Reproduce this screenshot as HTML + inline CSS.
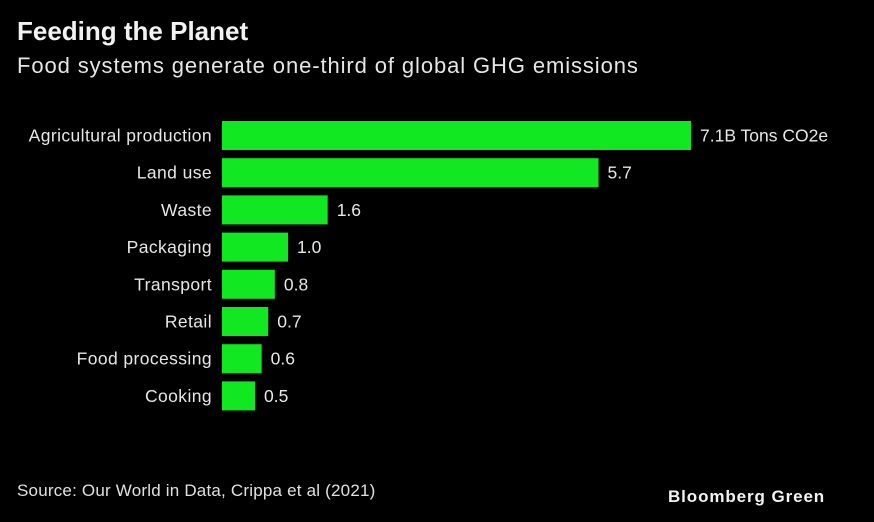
<!DOCTYPE html>
<html><head><meta charset="utf-8"><style>
body{margin:0;background:#000;width:874px;height:522px;overflow:hidden;font-family:"Liberation Sans",sans-serif;color:#e6e6e6}
#title{position:absolute;left:17px;top:16px;font-size:26px;font-weight:bold;color:#f2f2f2;letter-spacing:0px}
#sub{position:absolute;left:17px;top:53px;font-size:22px;color:#e6e6e6;letter-spacing:0.9px}
#src{position:absolute;left:17px;top:481px;font-size:17px;color:#e0e0e0;letter-spacing:0.2px}
#brand{position:absolute;left:668px;top:487px;font-size:17px;font-weight:bold;color:#f2f2f2;letter-spacing:0.9px}
</style></head><body>
<div id="title">Feeding the Planet</div>
<div id="sub">Food systems generate one-third of global GHG emissions</div>
<svg id="chart" width="874" height="522" style="position:absolute;left:0;top:0"></svg>
<div id="src">Source: Our World in Data, Crippa et al (2021)</div>
<div id="brand">Bloomberg Green</div>
<script>
const categories=["Agricultural production","Land use","Waste","Packaging","Transport","Retail","Food processing","Cooking"];
const values=[7.1,5.7,1.6,1.0,0.8,0.7,0.6,0.5];
const valueLabels=["7.1B Tons CO2e","5.7","1.6","1.0","0.8","0.7","0.6","0.5"];
const NS="http://www.w3.org/2000/svg";
const svg=document.getElementById('chart');
const x0=222, pxPerUnit=(691-222)/7.1;
const xScale=v=>x0+v*pxPerUnit;
const yScale=i=>121+i*37.2;
const bh=29;
categories.forEach((c,i)=>{
  const y=yScale(i);
  const r=document.createElementNS(NS,'rect');
  r.setAttribute('x',x0);r.setAttribute('y',y);
  r.setAttribute('width',xScale(values[i])-x0);r.setAttribute('height',bh);
  r.setAttribute('fill','#12e822');
  
  
  svg.appendChild(r);
  const t=document.createElementNS(NS,'text');
  t.setAttribute('x',212);t.setAttribute('y',y+bh/2+6);
  t.setAttribute('text-anchor','end');t.setAttribute('font-size','17.5');t.setAttribute('fill','#e6e6e6');
  t.setAttribute('letter-spacing','0.4');
  t.textContent=c;
  
  
  svg.appendChild(t);
  const v=document.createElementNS(NS,'text');
  v.setAttribute('x',xScale(values[i])+9);v.setAttribute('y',y+bh/2+6);
  v.setAttribute('font-size','17.5');v.setAttribute('fill','#e6e6e6');
  v.textContent=valueLabels[i];
  
  
  svg.appendChild(v);
});
</script>
</body></html>
